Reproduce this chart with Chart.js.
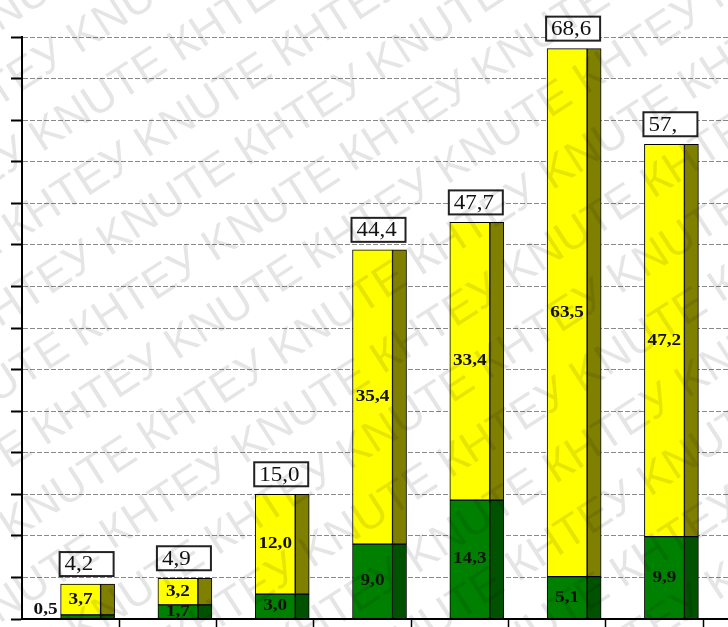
<!DOCTYPE html>
<html><head><meta charset="utf-8">
<script src="https://cdn.jsdelivr.net/npm/chart.js@4"></script>
<style>html,body{margin:0;padding:0;background:#fff;overflow:hidden}canvas{display:block}</style>
</head><body>
<canvas id="c" width="728" height="627"></canvas>
<script>
// ---- data ----
const categories = [1, 2, 3, 4, 5, 6, 7];
const greenValues = [0.5, 1.7, 3.0, 9.0, 14.3, 5.1, 9.9];
const yellowValues = [3.7, 3.2, 12.0, 35.4, 33.4, 63.5, 47.2];
const totalLabels = ['4,2', '4,9', '15,0', '44,4', '47,7', '68,6', '57,'];
const yMin = 0, yMax = 70, yStep = 5;

// ---- layout / style constants ----
const barShift = 0.308;          // bar group offset inside its category (in category units)
const xMax = -0.5 + 706 / 97.3;   // axis continues past the last category
const fmt = v => v.toFixed(1).replace('.', ',');

const pts = vals => vals.map((v, i) => ({ x: i + barShift, y: v }));

function stretchedText(ctx, text, x, y, font, sx, align) {
  ctx.save();
  ctx.translate(x, y);
  ctx.scale(sx, 1);
  ctx.font = font;
  ctx.textAlign = align;
  ctx.textBaseline = 'middle';
  ctx.fillStyle = '#111';
  ctx.fillText(text, 0, 0);
  ctx.restore();
}

const labelPlugin = {
  id: 'labels3d',
  afterDatasetsDraw(chart) {
    const ctx = chart.ctx;
    const gMeta = chart.getDatasetMeta(0);
    const yMeta = chart.getDatasetMeta(1);
    const segFont = 'bold 16px "Liberation Serif"';
    gMeta.data.forEach((el, i) => {
      const h = el.base - el.y;
      if (h < 8) {
        stretchedText(ctx, fmt(greenValues[i]), el.x - el.width / 2 - 3, el.base - 9, segFont, 1.2, 'right');
      } else {
        stretchedText(ctx, fmt(greenValues[i]), el.x, (el.y + el.base) / 2, segFont, 1.2, 'center');
      }
    });
    yMeta.data.forEach((el, i) => {
      stretchedText(ctx, fmt(yellowValues[i]), el.x, (el.y + el.base) / 2, segFont, 1.2, 'center');
      const left = el.x - el.width / 2 - 1;
      const w = 54, hgt = 24;
      const bottom = el.y - 8;
      ctx.save();
      ctx.fillStyle = '#fff';
      ctx.fillRect(left, bottom - hgt, w, hgt);
      ctx.lineWidth = 2;
      ctx.strokeStyle = '#222';
      ctx.strokeRect(left, bottom - hgt, w, hgt);
      ctx.restore();
      stretchedText(ctx, totalLabels[i], left + 5, bottom - hgt / 2 + 1, '20px "Liberation Serif"', 1.15, 'left');
    });
  },
  afterDraw(chart) {
    const ctx = chart.ctx;
    ctx.save();
    ctx.fillStyle = 'rgba(0,0,0,0.10)';
    ctx.font = '45px "Liberation Sans"';
    ctx.textBaseline = 'alphabetic';
    ctx.translate(364, 313);
    ctx.rotate(-33 * Math.PI / 180);
    let line = '';
    for (let k = 0; k < 12; k++) line += (k % 2 ? 'KNUTE ' : 'КНТЕУ ');
    for (let r = -10; r <= 10; r++) {
      const shift = (r % 2 === 0) ? 0 : -85;
      ctx.fillText(line, -900 + shift, r * 62);
    }
    ctx.restore();
  }
};

new Chart(document.getElementById('c'), {
  type: 'bar',
  data: {
    datasets: [
      { label: 'green', data: pts(greenValues), stack: 'front', barThickness: 40,
        backgroundColor: '#008000', borderColor: '#000', borderWidth: 1, borderSkipped: false },
      { label: 'yellow', data: pts(yellowValues), stack: 'front', barThickness: 40,
        backgroundColor: '#ffff00', borderColor: '#000', borderWidth: 1, borderSkipped: false },
      { label: 'green side', data: pts(greenValues), stack: 'side', barThickness: 14,
        backgroundColor: '#005200', borderColor: '#000', borderWidth: 1, borderSkipped: false },
      { label: 'yellow side', data: pts(yellowValues), stack: 'side', barThickness: 14,
        backgroundColor: '#808000', borderColor: '#000', borderWidth: 1, borderSkipped: false }
    ]
  },
  options: {
    responsive: false,
    animation: false,
    events: [],
    layout: { padding: { left: 11, top: 37, right: 0, bottom: 0 } },
    plugins: { legend: { display: false }, tooltip: { enabled: false } },
    scales: {
      x: {
        type: 'linear', min: -0.5, max: xMax, offset: false,
        afterBuildTicks: s => { s.ticks = categories.map((c, i) => ({ value: i + 0.5 })); },
        ticks: { display: false },
        grid: { offset: false, drawOnChartArea: false, drawTicks: true, tickLength: 8, tickColor: '#000', tickWidth: 1.5 },
        border: { color: '#000', width: 2 }
      },
      y: {
        stacked: true, min: yMin, max: yMax,
        ticks: { display: false, stepSize: yStep },
        grid: { color: '#8a8a8a', lineWidth: 1, drawTicks: true, tickLength: 11, tickColor: '#000', tickWidth: 2 },
        border: { color: '#000', width: 2, dash: [5, 2] }
      }
    }
  },
  plugins: [labelPlugin]
});
</script>
</body></html>
